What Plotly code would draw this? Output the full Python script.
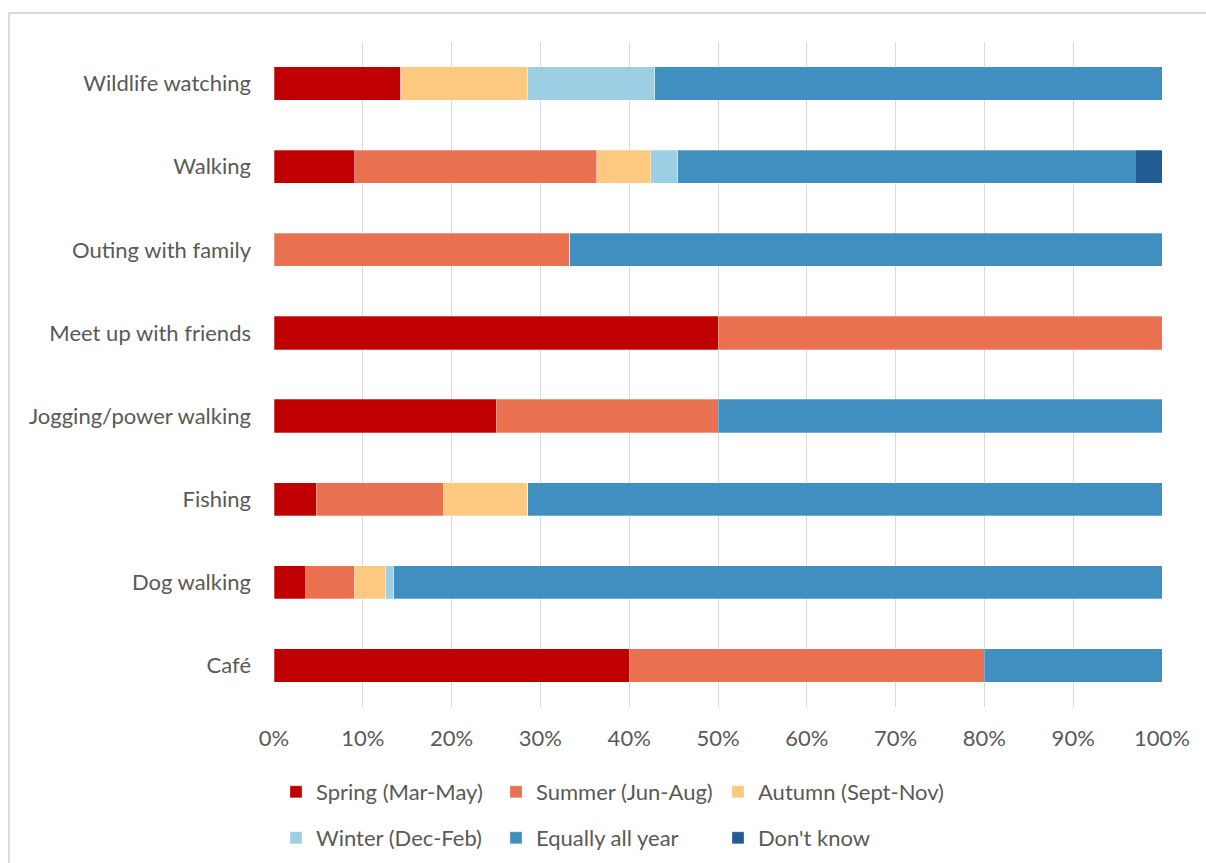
import plotly.graph_objects as go

categories = ["Wildlife watching", "Walking", "Outing with family", "Meet up with friends",
              "Jogging/power walking", "Fishing", "Dog walking", "Café"]
spring = [14.29, 9.09, 0, 50, 25, 4.76, 3.6, 40]
summer = [0, 27.27, 33.33, 50, 25, 14.29, 5.41, 40]
autumn = [14.29, 6.06, 0, 0, 0, 9.52, 3.6, 0]
winter = [14.29, 3.03, 0, 0, 0, 0, 0.9, 0]
equally = [57.13, 51.52, 66.67, 0, 50, 71.43, 86.49, 20]
dont_know = [0, 3.03, 0, 0, 0, 0, 0, 0]
series_names = ["Spring (Mar-May)", "Summer (Jun-Aug)", "Autumn (Sept-Nov)",
                "Winter (Dec-Feb)", "Equally all year", "Don't know"]
series_values = [spring, summer, autumn, winter, equally, dont_know]
colors = ["#C00000", "#EA7150", "#FDC880", "#9DCFE4", "#418FC0", "#235C92"]
x_ticks = [0, 10, 20, 30, 40, 50, 60, 70, 80, 90, 100]
x_tick_labels = [f"{t}%" for t in x_ticks]

FONT = "Lato"
GRAY = "#595959"
FS = 22

L, R, T, B = 274, 44, 42, 156
W, H = 1206, 863
pw, ph = W - L - R, H - T - B

def px2x(px):
    return (px - L) / pw

def py2y(py):
    return (H - B - py) / ph

def cy(py):
    return 1 - py / H

# legend slots: 3 columns x 2 rows (pixel positions of each entry)
legend_cols = [276, 496, 718]
legend_rows = [792, 838]

fig = go.Figure()
legend_layouts = {}
for i, (name, vals, col) in enumerate(zip(series_names, series_values, colors)):
    key = "legend" if i == 0 else f"legend{i + 1}"
    fig.add_trace(go.Bar(
        y=categories, x=vals, name=name, orientation="h",
        marker=dict(color=col, line=dict(width=0.8, color="rgba(255,255,255,0.35)")),
        legend=key,
    ))
    legend_layouts[key] = dict(
        orientation="h", xref="container", x=legend_cols[i % 3] / W, xanchor="left",
        yref="container", y=cy(legend_rows[i // 3]), yanchor="middle",
        font=dict(size=FS, color=GRAY, family=FONT),
        bgcolor="rgba(0,0,0,0)")

fig.update_layout(
    width=W, height=H,
    margin=dict(l=L, r=R, t=T, b=B, autoexpand=False),
    barmode="stack", bargap=0.6,
    plot_bgcolor="white", paper_bgcolor="white",
    font=dict(family=FONT, color=GRAY, size=FS),
    xaxis=dict(range=[0, 100], tickvals=x_ticks, ticktext=x_tick_labels,
               showgrid=True, gridcolor="#D9D9D9", gridwidth=1,
               zeroline=False, showline=False, ticks="", ticklabelstandoff=16,
               tickfont=dict(size=FS, color=GRAY, family=FONT)),
    yaxis=dict(autorange="reversed", showgrid=False, zeroline=False,
               showline=False, ticks="", ticklabelstandoff=22,
               tickfont=dict(size=FS, color=GRAY, family=FONT)),
    shapes=[dict(type="rect", xref="paper", yref="paper",
                 x0=px2x(9), x1=px2x(1260), y0=py2y(13), y1=py2y(920),
                 line=dict(color="#D9D9D9", width=2), fillcolor="rgba(0,0,0,0)",
                 layer="below")],
    showlegend=True,
    **legend_layouts,
)

fig.write_html("out.html")
